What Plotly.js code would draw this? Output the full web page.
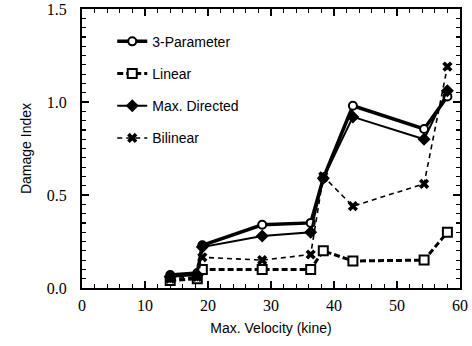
<!DOCTYPE html>
<html>
<head>
<meta charset="utf-8">
<script src="https://cdn.plot.ly/plotly-3.0.1.min.js"></script>
<style>
  html, body { margin: 0; padding: 0; background: #fff; }
  #chart { width: 472px; height: 346px; }
</style>
</head>
<body>
<div id="chart"></div>
<script>
// Peak ground velocity of each record (kine)
const velocity = [14.0, 18.3, 19.1, 28.6, 36.3, 38.3, 43.0, 54.3, 58.0];

// Damage index per model
const threeParameter = [0.07, 0.08, 0.23, 0.34, 0.35, 0.59, 0.98, 0.855, 1.03];
const linear         = [0.04, 0.05, 0.10, 0.10, 0.10, 0.20, 0.145, 0.15, 0.30];
const maxDirected    = [0.06, 0.07, 0.22, 0.28, 0.30, 0.59, 0.92, 0.80, 1.06];
const bilinear       = [0.05, 0.06, 0.165, 0.15, 0.18, 0.60, 0.44, 0.56, 1.19];

const seriesNames = ['3-Parameter', 'Linear', 'Max. Directed', 'Bilinear'];

const traces = [
  {
    x: velocity, y: threeParameter, name: seriesNames[0], legendgroup: 'a',
    mode: 'lines+markers',
    line: { color: '#000', width: 3.5 },
    marker: { symbol: 'circle', size: 8, color: '#fff', line: { color: '#000', width: 2 } }
  },
  {
    x: velocity, y: linear, name: seriesNames[1], legendgroup: 'b',
    mode: 'lines+markers',
    line: { color: '#000', width: 3, dash: '6px,3px' },
    marker: { symbol: 'square', size: 9, color: '#fff', line: { color: '#000', width: 2 } }
  },
  {
    x: velocity, y: maxDirected, name: seriesNames[2], legendgroup: 'c',
    mode: 'lines+markers',
    line: { color: '#000', width: 2 },
    marker: { symbol: 'diamond', size: 10, color: '#000' }
  },
  {
    x: velocity, y: bilinear, name: seriesNames[3], legendgroup: 'd',
    mode: 'lines+markers',
    line: { color: '#000', width: 1.6, dash: '5px,4px' },
    marker: { symbol: 'x', size: 9, color: '#000' }
  }
];

const axisCommon = {
  showline: true, linecolor: '#000', linewidth: 2, mirror: 'ticks',
  ticks: 'inside', ticklen: 7, tickwidth: 1.5, tickcolor: '#000',
  showgrid: false, zeroline: false,
  tickfont: { family: 'Liberation Serif, Times New Roman, serif', size: 16, color: '#000' },
  title: { font: { family: 'Liberation Sans, Arial, sans-serif', size: 14, color: '#000' } }
};

const layout = {
  width: 472, height: 346,
  margin: { l: 82, r: 12, t: 9, b: 58 },
  paper_bgcolor: '#fff', plot_bgcolor: '#fff',
  showlegend: true,
  legend: {
    x: 0.08, y: 0.94, xanchor: 'left', yanchor: 'top',
    bgcolor: 'rgba(0,0,0,0)', tracegroupgap: 11,
    font: { family: 'Liberation Sans, Arial, sans-serif', size: 14, color: '#000' }
  },
  xaxis: Object.assign({}, axisCommon, {
    range: [0, 60], dtick: 10, tick0: 0,
    minor: { dtick: 2, ticks: 'inside', ticklen: 4, tickwidth: 1.2, tickcolor: '#000' },
    ticklabelstandoff: 2,
    title: Object.assign({}, axisCommon.title, { text: 'Max. Velocity (kine)', standoff: 10 })
  }),
  yaxis: Object.assign({}, axisCommon, {
    range: [0, 1.5], dtick: 0.5, tick0: 0, tickformat: '.1f',
    minor: { dtick: 0.05, ticks: 'inside', ticklen: 4, tickwidth: 1.2, tickcolor: '#000' },
    ticklabelstandoff: 10,
    title: Object.assign({}, axisCommon.title, { text: 'Damage Index', standoff: 12 })
  })
};

Plotly.newPlot('chart', traces, layout, { displayModeBar: false, staticPlot: true });
</script>
</body>
</html>
